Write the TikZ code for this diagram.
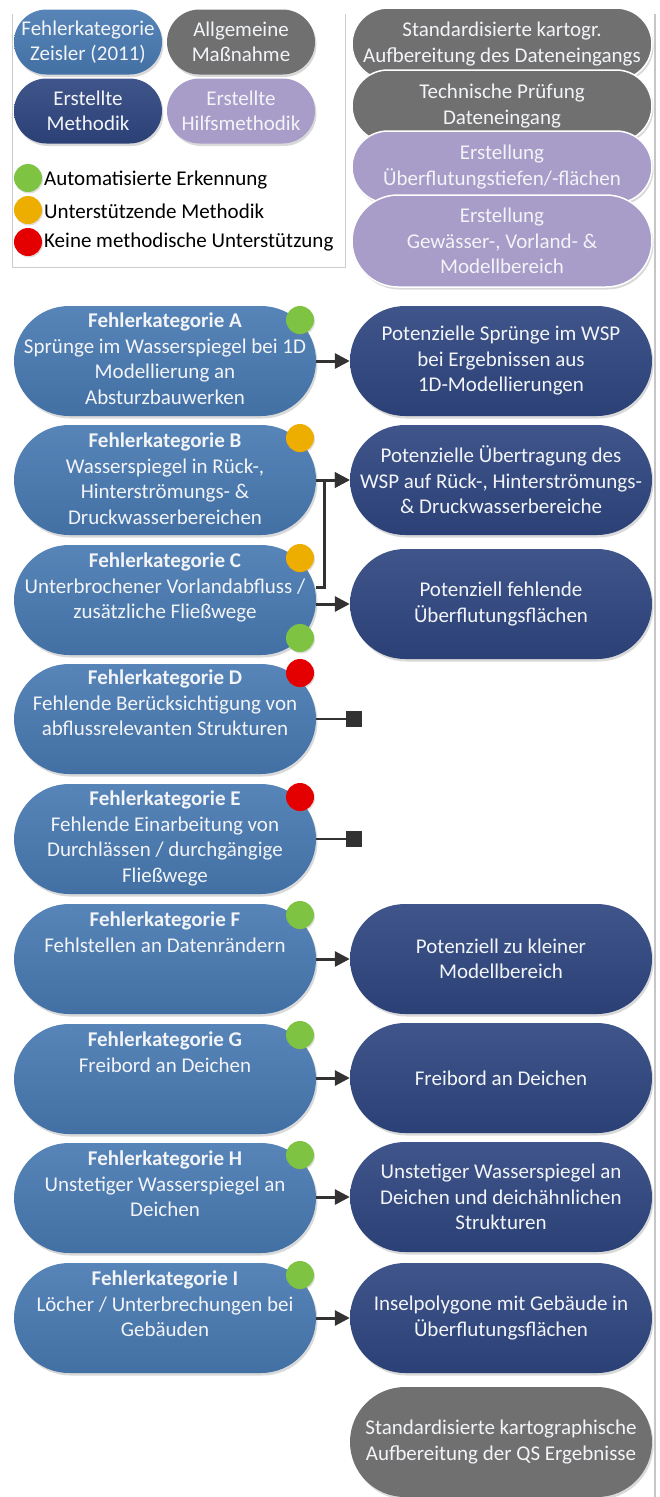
\documentclass[tikz,border=0pt]{standalone}
\usepackage{fontspec}
\setmainfont{Carlito}
\usetikzlibrary{arrows.meta, positioning, calc, shadows}
\definecolor{fkblue}{RGB}{72,122,178}
\definecolor{mnavy}{RGB}{47,70,128}
\definecolor{mgray}{RGB}{112,112,112}
\definecolor{mlilac}{RGB}{168,156,200}
\definecolor{dotgreen}{RGB}{126,196,66}
\definecolor{dotorange}{RGB}{238,174,0}
\definecolor{dotred}{RGB}{228,0,0}
\definecolor{arrgray}{RGB}{50,50,50}
\definecolor{pilltext}{RGB}{242,244,248}
\newcommand{\pillfont}{\fontsize{21}{25.5}\selectfont}
\tikzset{
  pill/.style={rectangle, rounded corners=#1, minimum height=2*#1,
               minimum width=302pt, inner sep=0pt, align=center,
               text=pilltext, font=\pillfont,
               drop shadow={shadow xshift=1.5pt, shadow yshift=-2.5pt, opacity=0.3}},
  pill/.default=55pt,
  fk/.style={pill=#1, top color=fkblue!92!white, bottom color=fkblue!92!black},
  fk/.default=55pt,
  res/.style={pill=#1, top color=mnavy!92!white, bottom color=mnavy!92!black},
  res/.default=55pt,
  gen/.style={pill=#1, fill=mgray, draw=white, line width=1.5pt},
  gen/.default=55pt,
  aux/.style={pill=#1, fill=mlilac, draw=white, line width=1.5pt},
  aux/.default=55pt,
  fktxt/.style={anchor=north, align=center, text=pilltext, font=\pillfont, inner sep=0pt},
  dot/.style={circle, minimum size=28pt, inner sep=0pt, fill=#1,
              drop shadow={shadow xshift=1pt, shadow yshift=-1.5pt, opacity=0.25}},
  legtxt/.style={anchor=west, font=\pillfont, inner sep=0pt},
  arr/.style={-{Triangle[length=15pt, width=15pt]}, line width=3pt, arrgray},
  deadend/.style={-{Square[length=16pt, width=16pt]}, line width=2.6pt, arrgray},
}
\begin{document}
\begin{tikzpicture}[x=1pt, y=-1pt, font=\pillfont]
  \useasboundingbox (0,0) rectangle (659,1497);
  % ── page edge ──────────────────────────────────────────
  \draw[gray!45, line width=2.5pt] (655,14) -- (655,1497);

  % ── legend ─────────────────────────────────────────────
  \draw[gray!40, line width=0.8pt] (12,14) -- (12,267) -- (345,267) -- (345,14);
  \node[fk=32.5pt, minimum width=148pt] (lgFk) at (88,42) {Fehlerkategorie\\Zeisler (2011)};
  \node[gen=32.5pt, minimum width=148pt, draw=none] (lgGen) at (241,42) {Allgemeine\\Maßnahme};
  \node[res=32.5pt, minimum width=148pt] (lgRes) at (88,111) {Erstellte\\Methodik};
  \node[aux=32.5pt, minimum width=148pt, draw=none] (lgAux) at (241,111) {Erstellte\\Hilfsmethodik};
  \node[dot=dotgreen] (lgG) at (28,178) {};
  \node[dot=dotorange] (lgO) at (28,210) {};
  \node[dot=dotred] (lgR) at (28,242) {};
  \node[legtxt] (lgGt) at (44,180) {Automatisierte Erkennung};
  \node[legtxt] (lgOt) at (44,211) {Unterstützende Methodik};
  \node[legtxt] (lgRt) at (44,242) {Keine methodische Unterstützung};

  % ── general steps (top right) ──────────────────────────
  \node[gen=36pt, minimum width=300pt] (genA) at (502,44)
    {Standardisierte kartogr.\\Aufbereitung des Dateneingangs};
  \node[gen=36pt, minimum width=300pt] (genB) at (502,106)
    {Technische Prüfung\\Dateneingang};
  \node[aux=36pt, minimum width=300pt] (auxA) at (502,167)
    {Erstellung\\Überflutungstiefen/-flächen};
  \node[aux=46pt, minimum width=300pt] (auxB) at (502,241)
    {Erstellung\\Gewässer-, Vorland- \&\\Modellbereich};

  % ── error categories (left) ────────────────────────────
  \foreach \k/\y in {A/361,B/480,C/600,D/719,E/839,F/959,G/1079,H/1198,I/1318}
    \node[fk] (fk\k) at (165,\y) {};
  \node[fktxt] (fkAt) at ([yshift=-7pt]fkA.north)
    {\textbf{Fehlerkategorie A}\\Sprünge im Wasserspiegel bei 1D\\Modellierung an\\Absturzbauwerken};
  \node[fktxt] (fkBt) at ([yshift=-8pt]fkB.north)
    {\textbf{Fehlerkategorie B}\\Wasserspiegel in Rück-,\\Hinterströmungs- \&\\Druckwasserbereichen};
  \node[fktxt] (fkCt) at ([yshift=-8pt]fkC.north)
    {\textbf{Fehlerkategorie C}\\Unterbrochener Vorlandabfluss /\\zusätzliche Fließwege};
  \node[fktxt] (fkDt) at ([yshift=-6pt]fkD.north)
    {\textbf{Fehlerkategorie D}\\Fehlende Berücksichtigung von\\abflussrelevanten Strukturen};
  \node[fktxt] (fkEt) at ([yshift=-7pt]fkE.north)
    {\textbf{Fehlerkategorie E}\\Fehlende Einarbeitung von\\Durchlässen / durchgängige\\Fließwege};
  \node[fktxt] (fkFt) at ([yshift=-8pt]fkF.north)
    {\textbf{Fehlerkategorie F}\\Fehlstellen an Datenrändern};
  \node[fktxt] (fkGt) at ([yshift=-8pt]fkG.north)
    {\textbf{Fehlerkategorie G}\\Freibord an Deichen};
  \node[fktxt] (fkHt) at ([yshift=-8pt]fkH.north)
    {\textbf{Fehlerkategorie H}\\Unstetiger Wasserspiegel an\\Deichen};
  \node[fktxt] (fkIt) at ([yshift=-8pt]fkI.north)
    {\textbf{Fehlerkategorie I}\\Löcher / Unterbrechungen bei\\Gebäuden};

  % ── status dots ────────────────────────────────────────
  \foreach \n/\c/\y in {A/dotgreen/320,B/dotorange/438,C/dotorange/558,Cb/dotgreen/638,
                        D/dotred/673,E/dotred/797,F/dotgreen/915,G/dotgreen/1035,
                        H/dotgreen/1155,I/dotgreen/1275}
    \node[dot=\c] (dot\n) at (300,\y) {};

  % ── derived methods (right) ────────────────────────────
  \node[res] (resA) at (501,361) {Potenzielle Sprünge im WSP\\bei Ergebnissen aus\\1D-Modellierungen};
  \node[res] (resB) at (501,480) {Potenzielle Übertragung des\\WSP auf Rück-, Hinterströmungs-\\\& Druckwasserbereiche};
  \node[res] (resC) at (501,604) {Potenziell fehlende\\Überflutungsflächen};
  \node[res] (resF) at (501,959) {Potenziell zu kleiner\\Modellbereich};
  \node[res] (resG) at (501,1078) {Freibord an Deichen};
  \node[res] (resH) at (501,1197) {Unstetiger Wasserspiegel an\\Deichen und deichähnlichen\\Strukturen};
  \node[res] (resI) at (501,1318) {Inselpolygone mit Gebäude in\\Überflutungsflächen};
  \node[gen, draw=none] (genC) at (501,1442) {Standardisierte kartographische\\Aufbereitung der QS Ergebnisse};

  % ── connectors ─────────────────────────────────────────
  \foreach \k in {A,B,C,F,G,H,I}
    \draw[arr] (res\k.west -| fk\k.east) -- (res\k.west);
  \draw[arr] ([yshift=13pt]fkC.east) -| ([xshift=8pt]fkB.east) -- (resB.west);
  \coordinate (endD) at ([xshift=46pt]fkD.east);
  \coordinate (endE) at ([xshift=46pt]fkE.east);
  \draw[deadend] (fkD.east) -- (endD);
  \draw[deadend] (fkE.east) -- (endE);
\end{tikzpicture}
\end{document}
